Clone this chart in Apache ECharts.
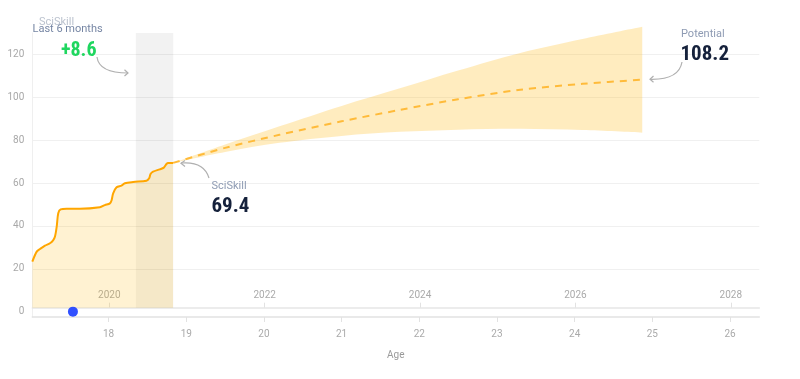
<!DOCTYPE html>
<html>
<head>
<meta charset="utf-8">
<script src="https://cdn.jsdelivr.net/npm/echarts@6/dist/echarts.min.js"></script>
<style>
html,body{margin:0;padding:0;background:#fff;}
#c{width:800px;height:379px;}
</style>
</head>
<body>
<div id="c"></div>
<script>
// ---- data ----
var historyAge = [17.018,17.075,17.117,17.181,17.245,17.288,17.310,17.332,17.352,17.383,17.460,17.631,17.888,17.952,18.017,18.039,18.059,18.103,18.167,18.210,18.316,18.488,18.522,18.540,18.573,18.659,18.711,18.745,18.766,18.830];
var historyScore = [23.3,28,29.2,30.8,31.9,33.4,35,39.6,45.9,47.7,48,48,48.7,49.7,50.5,52,55.2,58,58.8,59.9,60.5,61.1,62.2,64.2,65.3,66.4,67.2,68.9,69.4,69.4];
var projAge = [18.83,19.5,20.2,21.0,21.75,22.5,23.3,24.1,24.87];
var projMedian = [69.4,76.4,82.5,88.8,94.1,99.1,103.5,106.3,108.2];
var projUpper = [69.4,78,86.5,96,104.2,112.5,120.7,127.2,132.9];
var projLower = [69.4,74.5,78.8,82,83.9,84.9,85.3,84.7,83.5];
var recentWindow = [18.351, 18.833];
var markerPoint = [17.541, 0];
var yTickLabels = [0,20,40,60,80,100,120];
var yGridLines = [20,40,60,80,100,120];
var ageTicks = [18,19,20,21,22,23,24,25,26];
var yearTicks = [2020,2022,2024,2026,2028];
var ageMin = 17.018, ageMax = 26.377, yearShift = 2001.99;
var scoreMin = -2.5, scoreMax = 130, areaBase = 1.8;
var currentScore = '69.4', potentialScore = '108.2', recentGain = '+8.6';

var zip = function(a, b){ return a.map(function(v,i){ return [v, b[i]]; }); };
var bandData = projAge.map(function(a,i){ return [a, projLower[i], projUpper[i]]; });

var smallFont = 'Roboto, "Noto Sans", sans-serif';
var bigFont = '"Liberation Sans Narrow", "Roboto Condensed", Roboto, sans-serif';
var fillColor = 'rgba(255,180,0,0.25)';

// Catmull-Rom smoothing of a pixel polyline into SVG path commands (continuing a path)
function smoothSeg(pts, t) {
  var d = '';
  for (var i = 0; i < pts.length - 1; i++) {
    var p0 = pts[i - 1] || pts[i], p1 = pts[i], p2 = pts[i + 1], p3 = pts[i + 2] || p2;
    var c1x = p1[0] + (p2[0] - p0[0]) * t, c1y = p1[1] + (p2[1] - p0[1]) * t;
    var c2x = p2[0] - (p3[0] - p1[0]) * t, c2y = p2[1] - (p3[1] - p1[1]) * t;
    d += ' C' + c1x + ' ' + c1y + ' ' + c2x + ' ' + c2y + ' ' + p2[0] + ' ' + p2[1];
  }
  return d;
}

function renderBand(params, api) {
  if (params.dataIndex !== 0) return;
  var up = [], lo = [];
  for (var i = 0; i < bandData.length; i++) {
    up.push(api.coord([bandData[i][0], bandData[i][2]]));
    lo.push(api.coord([bandData[i][0], bandData[i][1]]));
  }
  var loRev = lo.slice().reverse();
  var d = 'M' + up[0][0] + ' ' + up[0][1] + smoothSeg(up, 0.16) +
          ' L' + loRev[0][0] + ' ' + loRev[0][1] + smoothSeg(loRev, 0.16) + ' Z';
  return {type: 'path', shape: {pathData: d}, style: {fill: fillColor, stroke: null}};
}

var chart = echarts.init(document.getElementById('c'), null, {renderer:'canvas'});
chart.setOption({
  animation: false,
  grid: {left: 32.3, right: 40.7, top: 33, bottom: 62, containLabel: false},
  xAxis: [{
    type: 'value', min: ageMin, max: ageMax, position: 'bottom',
    name: 'Age', nameLocation: 'middle', nameGap: 33,
    nameTextStyle: {color: '#9a9a9a', fontSize: 10, fontFamily: smallFont},
    axisLine: {onZero: false, lineStyle: {color: '#e2e2e2', width: 1.5}},
    axisTick: {show: true, length: 5, lineStyle: {color: '#e2e2e2'}, customValues: ageTicks},
    axisLabel: {color: '#aaaaaa', fontSize: 10, fontFamily: smallFont, margin: 12, customValues: ageTicks},
    splitLine: {show: false}
  }, {
    type: 'value', min: ageMin + yearShift, max: ageMax + yearShift, position: 'bottom', offset: -9.3,
    axisLine: {onZero: false, lineStyle: {color: '#e6e6e6', width: 1.5}},
    axisTick: {show: true, inside: true, length: 5, lineStyle: {color: '#e2e2e2'}, customValues: yearTicks},
    axisLabel: {inside: true, color: '#aaaaaa', fontSize: 10, fontFamily: smallFont, margin: 7, customValues: yearTicks,
      formatter: function(v){ return String(Math.round(v)); }},
    splitLine: {show: false}
  }],
  yAxis: {
    type: 'value', min: scoreMin, max: scoreMax,
    axisLine: {show: true, lineStyle: {color: '#efefef'}},
    axisTick: {show: false, customValues: yGridLines},
    axisLabel: {color: '#a8a8a8', fontSize: 10, fontFamily: smallFont, margin: 8, customValues: yTickLabels},
    splitLine: {show: true, lineStyle: {color: '#f0f0f0', width: 1.2}}
  },
  series: [
    {
      type: 'line', data: [], z: 1, silent: true,
      markArea: {silent: true, itemStyle: {color: 'rgba(0,0,0,0.05)'},
        data: [[{xAxis: recentWindow[0], yAxis: areaBase}, {xAxis: recentWindow[1], yAxis: scoreMax}]]}
    },
    {
      type: 'line', data: zip(historyAge, historyScore), z: 3, smooth: 0.3, showSymbol: false, symbol: 'none',
      lineStyle: {color: '#ffa600', width: 2},
      areaStyle: {color: fillColor, origin: areaBase}
    },
    {
      type: 'custom', data: bandData, z: 2, silent: true, renderItem: renderBand,
      encode: {x: 0, y: [1, 2]}
    },
    {
      type: 'line', data: zip(projAge, projMedian), z: 4, smooth: 0.3, symbol: 'none',
      lineStyle: {color: '#ffbb3a', width: 2, type: [7, 6]}
    },
    {
      type: 'scatter', data: [markerPoint], z: 5, symbolSize: 10,
      itemStyle: {color: '#3050ff', opacity: 1}
    }
  ],
  graphic: [
    {type: 'text', x: 39, y: 22, z: 10, style: {text: 'SciSkill', fill: '#bcc3cf', font: '11px ' + smallFont, verticalAlign: 'middle'}},
    {type: 'text', x: 32.5, y: 29.5, z: 10, style: {text: 'Last 6 months', fill: '#7686a4', font: '11px ' + smallFont, verticalAlign: 'middle'}},
    {type: 'text', x: 61, y: 50.5, z: 10, style: {text: recentGain, fill: '#1fd65f', font: 'bold 20px ' + bigFont, verticalAlign: 'middle'}},
    {type: 'bezierCurve', z: 10, shape: {x1: 97, y1: 57, cpx1: 99, cpy1: 73, x2: 128, y2: 73}, style: {stroke: '#b0b0b0', lineWidth: 1.2, fill: null}},
    {type: 'polyline', z: 10, shape: {points: [[124.5, 69.8], [128, 73], [124.5, 76]]}, style: {stroke: '#b0b0b0', lineWidth: 1.2, fill: null}},

    {type: 'text', x: 211.5, y: 186, z: 10, style: {text: 'SciSkill', fill: '#8e9bb3', font: '11px ' + smallFont, verticalAlign: 'middle'}},
    {type: 'text', x: 211.5, y: 206.5, z: 10, style: {text: currentScore, fill: '#15213b', font: 'bold 21px ' + bigFont, verticalAlign: 'middle'}},
    {type: 'bezierCurve', z: 10, shape: {x1: 209, y1: 178, cpx1: 204, cpy1: 161, x2: 181, y2: 163}, style: {stroke: '#b0b0b0', lineWidth: 1.2, fill: null}},
    {type: 'polyline', z: 10, shape: {points: [[185, 160.5], [181, 163.3], [185, 166.5]]}, style: {stroke: '#b0b0b0', lineWidth: 1.2, fill: null}},

    {type: 'text', x: 681, y: 34, z: 10, style: {text: 'Potential', fill: '#8e9bb3', font: '11px ' + smallFont, verticalAlign: 'middle'}},
    {type: 'text', x: 680.5, y: 54.5, z: 10, style: {text: potentialScore, fill: '#15213b', font: 'bold 21px ' + bigFont, verticalAlign: 'middle'}},
    {type: 'bezierCurve', z: 10, shape: {x1: 682, y1: 62, cpx1: 679, cpy1: 80, x2: 650, y2: 79.3}, style: {stroke: '#b0b0b0', lineWidth: 1.2, fill: null}},
    {type: 'polyline', z: 10, shape: {points: [[653.5, 76], [650, 79.3], [653.5, 82.3]]}, style: {stroke: '#b0b0b0', lineWidth: 1.2, fill: null}}
  ]
});
</script>
</body>
</html>
